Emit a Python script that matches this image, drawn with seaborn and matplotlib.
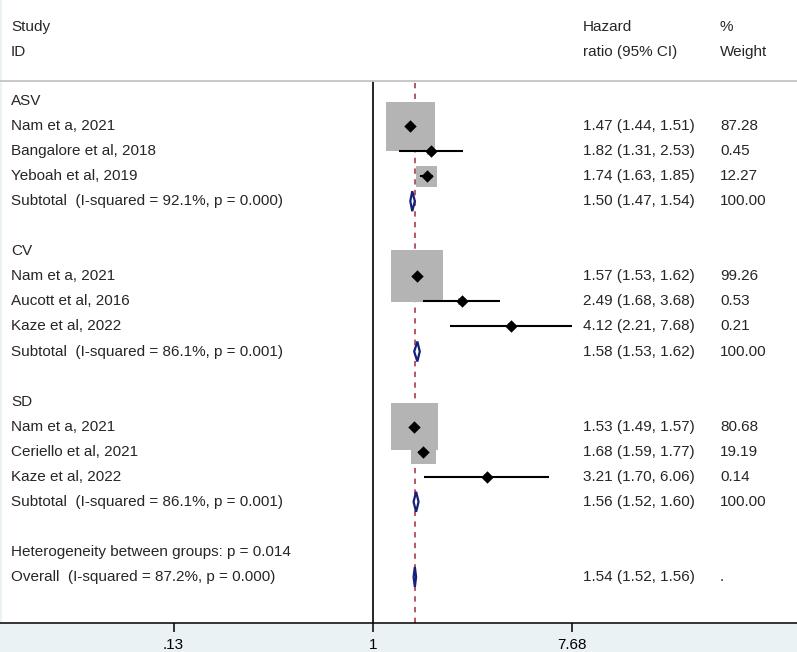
import numpy as np
import pandas as pd
import matplotlib
matplotlib.use("Agg")
import matplotlib.pyplot as plt
from matplotlib.patches import Rectangle, Polygon
import matplotlib.transforms as mtrans
import seaborn as sns

# ---------------- data ----------------
groups = ["ASV", "CV", "SD"]
studies = [
    ["Nam et a, 2021", "Bangalore et al, 2018", "Yeboah et al, 2019"],
    ["Nam et a, 2021", "Aucott et al, 2016", "Kaze et al, 2022"],
    ["Nam et a, 2021", "Ceriello et al, 2021", "Kaze et al, 2022"],
]
hr = [[1.47, 1.82, 1.74], [1.57, 2.49, 4.12], [1.53, 1.68, 3.21]]
lo = [[1.44, 1.31, 1.63], [1.53, 1.68, 2.21], [1.49, 1.59, 1.70]]
hi = [[1.51, 2.53, 1.85], [1.62, 3.68, 7.68], [1.57, 1.77, 6.06]]
wt = [[87.28, 0.45, 12.27], [99.26, 0.53, 0.21], [80.68, 19.19, 0.14]]
wt_lbl = [["87.28", "0.45", "12.27"], ["99.26", "0.53", "0.21"], ["80.68", "19.19", "0.14"]]
sub_hr = [1.50, 1.58, 1.56]
sub_lo = [1.47, 1.53, 1.52]
sub_hi = [1.54, 1.62, 1.60]
sub_lbl = ["Subtotal  (I-squared = 92.1%, p = 0.000)",
           "Subtotal  (I-squared = 86.1%, p = 0.001)",
           "Subtotal  (I-squared = 86.1%, p = 0.001)"]
het_lbl = "Heterogeneity between groups: p = 0.014"
overall_lbl = "Overall  (I-squared = 87.2%, p = 0.000)"
overall_hr, overall_lo, overall_hi = 1.54, 1.52, 1.56
xticks = [0.13, 1, 7.68]
xtick_labels = [".13", "1", "7.68"]

# ---------------- build rows ----------------
rows = []
r = 0
for g in range(3):
    rows.append(dict(row=r, kind="group", label=groups[g]))
    r += 1
    for i in range(3):
        rows.append(dict(row=r, kind="study", label=studies[g][i], hr=hr[g][i],
                         lo=lo[g][i], hi=hi[g][i], w=wt[g][i], wl=wt_lbl[g][i]))
        r += 1
    rows.append(dict(row=r, kind="sub", label=sub_lbl[g], hr=sub_hr[g],
                     lo=sub_lo[g], hi=sub_hi[g], wl="100.00"))
    r += 1
    r += 1  # blank
rows.append(dict(row=r, kind="het", label=het_lbl)); r += 1
rows.append(dict(row=r, kind="overall", label=overall_lbl, hr=overall_hr,
                 lo=overall_lo, hi=overall_hi, wl="."))
df = pd.DataFrame(rows)
st = df[df.kind == "study"].copy()

# ---------------- figure ----------------
sns.set_style("white")
plt.rcParams["font.family"] = ["Liberation Sans", "DejaVu Sans"]
W, H = 797, 652
fig = plt.figure(figsize=(W / 100, H / 100), dpi=100, facecolor="white")
band = "#eaf2f3"
fig.patches.append(Rectangle((0, 0), 1, 29 / H, transform=fig.transFigure,
                             facecolor=band, edgecolor="none", zorder=-5))
fig.patches.append(Rectangle((0, 0), 1.5 / W, 1, transform=fig.transFigure,
                             facecolor=band, edgecolor="none", zorder=-5))

ax = fig.add_axes([0, 29 / H, 1, (623 - 81) / H])
ax.set_zorder(2)
ax.patch.set_alpha(0)
ax.set_xscale("log")
px_per_ln = 97.6
x0 = 372.7
ax.set_xlim(np.exp(-x0 / px_per_ln), np.exp((W - x0) / px_per_ln))
rowpx = 25.05
ax.set_ylim((623 - 101) / rowpx, (81 - 101) / rowpx)

# spines
for s in ["left", "right"]:
    ax.spines[s].set_visible(False)
ax.spines["top"].set_color("#c4c4c4")
ax.spines["top"].set_linewidth(1.3)
ax.spines["bottom"].set_color("black")
ax.spines["bottom"].set_linewidth(1.1)

# reference lines
ax.axvline(1, color="black", lw=1.2, zorder=1)
ax.axvline(overall_hr, color="#a3283a", lw=1.1, ls=(0, (3.5, 3.5)), zorder=0.5)

# boxes (area ~ weight)
side_px = 4.2 + 4.8 * np.sqrt(st["w"].values)
ax.scatter(st["hr"], st["row"], s=(side_px * 0.72) ** 2, marker="s",
           color="#b4b4b4", linewidths=0, zorder=2)
# CI lines
ax.hlines(st["row"], st["lo"], st["hi"], color="black", lw=1.5, zorder=3)
# point estimates
sns.scatterplot(data=st, x="hr", y="row", marker="D", color="black", s=40,
                linewidth=0, ax=ax, zorder=4, legend=False)

# diamonds
navy = "#14207a"
dh = 10 / rowpx
for _, rr in df[df.kind.isin(["sub", "overall"])].iterrows():
    y = rr["row"]
    poly = Polygon([(rr["lo"], y), (rr["hr"], y - dh), (rr["hi"], y), (rr["hr"], y + dh)],
                   closed=True, facecolor="white", edgecolor=navy, lw=1.6, zorder=5)
    ax.add_patch(poly)

# axis ticks
ax.set_xlabel(""); ax.set_ylabel("")
ax.set_yticks([])
ax.set_xticks(xticks)
ax.set_xticklabels(xtick_labels, fontsize=11)
ax.xaxis.set_minor_locator(matplotlib.ticker.NullLocator())
ax.tick_params(axis="x", which="major", direction="out", length=6.5, width=1.1,
               pad=4, colors="black", bottom=True, labelbottom=True)
ax.set_ylim((623 - 101) / rowpx, (81 - 101) / rowpx)

# text
tr = mtrans.blended_transform_factory(ax.transAxes, ax.transData)
fs = 11
xl, xh, xw = 11 / W, 583 / W, 720 / W
for _, rr in df.iterrows():
    ax.text(xl, rr["row"], rr["label"], transform=tr, fontsize=fs, va="center",
            ha="left", clip_on=False)
    if rr["kind"] in ("study", "sub", "overall"):
        ax.text(xh, rr["row"], f"{rr['hr']:.2f} ({rr['lo']:.2f}, {rr['hi']:.2f})",
                transform=tr, fontsize=fs, va="center", ha="left", clip_on=False)
        ax.text(xw, rr["row"], rr["wl"], transform=tr, fontsize=fs, va="center",
                ha="left", clip_on=False)

hdr1 = (27 - 101) / rowpx
hdr2 = (52 - 101) / rowpx
ax.text(xl, hdr1, "Study", transform=tr, fontsize=fs, va="center", clip_on=False)
ax.text(xl, hdr2, "ID", transform=tr, fontsize=fs, va="center", clip_on=False)
ax.text(xh, hdr1, "Hazard", transform=tr, fontsize=fs, va="center", clip_on=False)
ax.text(xh, hdr2, "ratio (95% CI)", transform=tr, fontsize=fs, va="center", clip_on=False)
ax.text(xw, hdr1, "%", transform=tr, fontsize=fs, va="center", clip_on=False)
ax.text(xw, hdr2, "Weight", transform=tr, fontsize=fs, va="center", clip_on=False)

fig.savefig("out.png", dpi=100, facecolor="white")
